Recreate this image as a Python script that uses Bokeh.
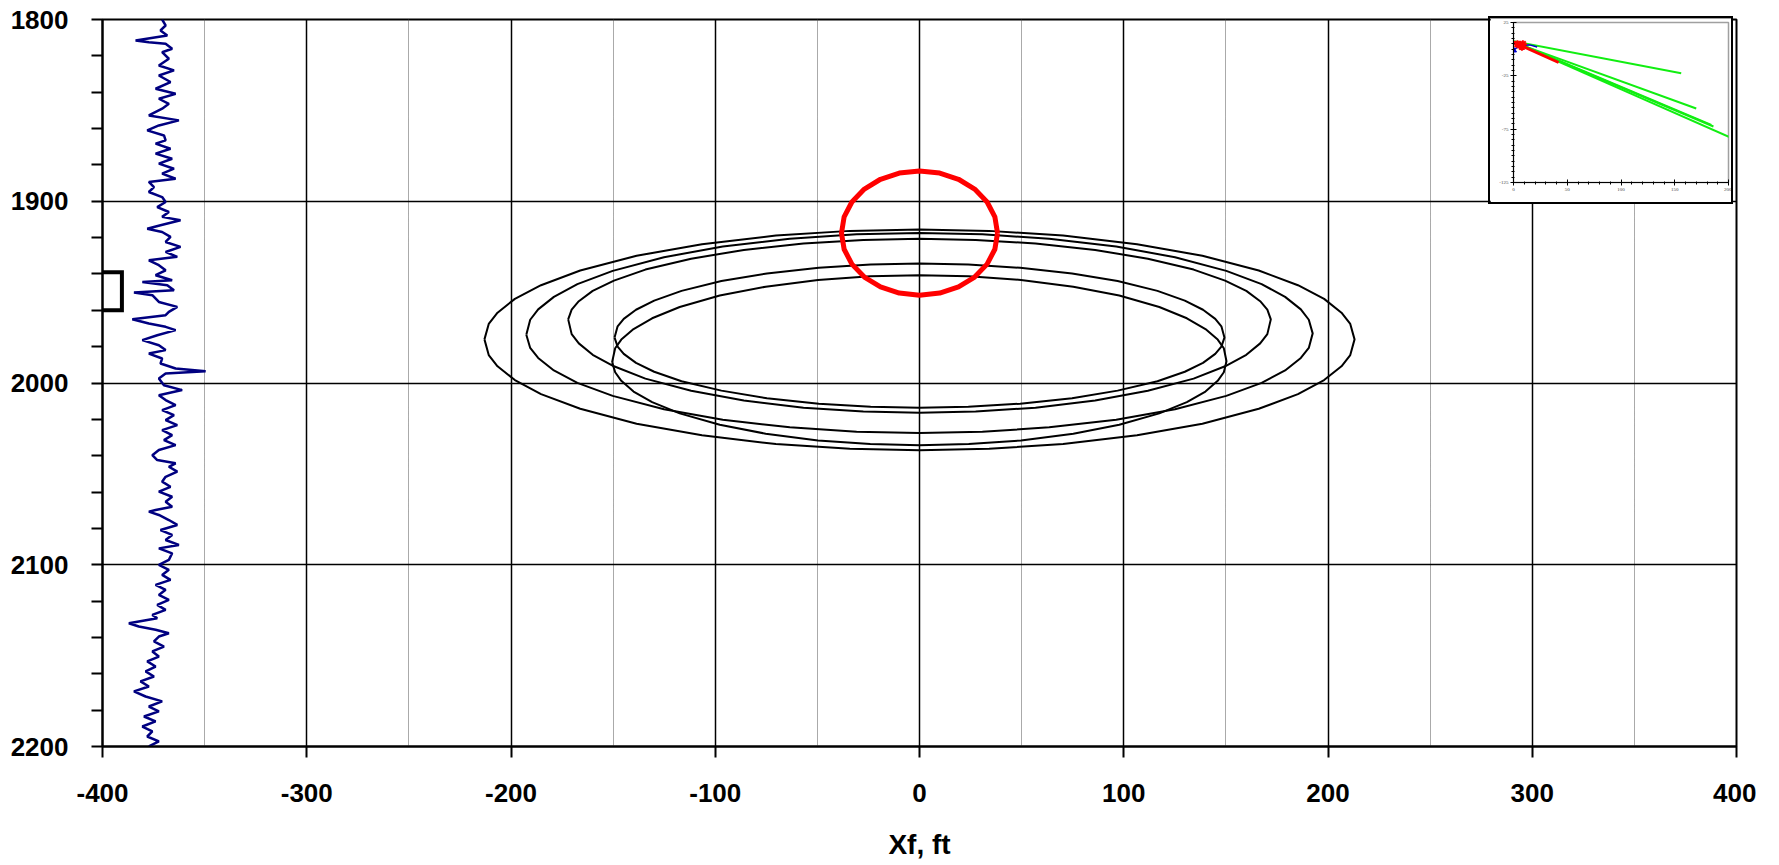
from bokeh.plotting import figure
from bokeh.models import FixedTicker, Range1d
from bokeh.embed import file_html
from bokeh.resources import INLINE

# ---------------- data ----------------
x_ticks = [-400, -300, -200, -100, 0, 100, 200, 300, 400]
x_minor = [-350, -250, -150, -50, 50, 150, 250, 350]
y_ticks = [1800, 1900, 2000, 2100, 2200]
y_minor = [1820, 1840, 1860, 1880, 1920, 1940, 1960, 1980, 2020, 2040, 2060, 2080,
           2120, 2140, 2160, 2180]

# gamma-ray style log (x = deflection, y = depth)
log_y = [1800, 1803.3, 1806.0, 1808.8, 1811.5, 1812.5, 1813.4, 1816.1, 1818.0, 1821.6,
         1825.3, 1828.0, 1830.8, 1834.4, 1838.1, 1840.9, 1843.6, 1846.4, 1849.1, 1852.8,
         1855.5, 1858.3, 1861.0, 1863.8, 1866.5, 1868.3, 1871.1, 1873.8, 1876.6, 1879.3,
         1882.1, 1884.8, 1887.6, 1889.4, 1892.2, 1894.9, 1897.7, 1900.4,
         1903.2, 1905.9, 1908.6, 1910.5, 1913.2, 1915.1, 1916.9, 1919.6, 1922.4, 1925.1,
         1927.9, 1930.6, 1932.5, 1935.2, 1938.0, 1940.7, 1943.5, 1944.4, 1946.2, 1949.0,
         1950.2, 1951.7, 1955.4, 1958.1, 1960.9, 1962.7, 1964.9, 1967.3, 1969.1, 1970.9,
         1973.7, 1976.4, 1979.2, 1981.9, 1983.8, 1986.5, 1989.3, 1992.0, 1993.5, 1994.8,
         1997.5,
         2001.2, 2003.9, 2006.7, 2009.4, 2012.2, 2014.9, 2017.7, 2020.4, 2023.2, 2025.9,
         2028.7, 2031.4, 2034.2, 2036.9, 2039.7, 2042.4, 2044.2, 2046.1, 2048.8, 2051.6,
         2054.3, 2057.1, 2059.8, 2062.6, 2065.3, 2068.1, 2069.9, 2070.8, 2072.6, 2075.4,
         2078.1, 2080.9, 2083.6, 2086.4, 2089.1, 2091.0, 2093.7,
         2097.3, 2100.1, 2102.8, 2105.6, 2108.3, 2111.1, 2113.8, 2116.6, 2119.3, 2122.1,
         2124.8, 2127.6, 2129.4, 2132.2, 2134.0, 2135.8, 2137.7, 2139.5, 2142.2, 2145.0,
         2147.7, 2150.5, 2153.2, 2156.0, 2158.7, 2161.5, 2164.2, 2167.0, 2169.7, 2172.5,
         2175.2, 2178.0, 2180.7, 2183.5, 2186.2, 2189.0, 2191.7, 2194.5, 2197.2, 2199.9]
log_x = [-370.8, -369.1, -371.6, -368.3, -383.8, -377.3, -369.1, -365.9, -370.8, -367.5,
         -372.4, -365.0, -372.4, -366.7, -374.0, -364.2, -372.4, -367.5, -370.8, -377.3,
         -362.6, -372.4, -378.1, -369.9, -369.1, -374.0, -366.7, -374.0, -365.9, -372.4,
         -365.0, -370.8, -364.2, -377.3, -374.8, -377.3, -370.8, -369.1,
         -373.2, -367.5, -370.8, -361.8, -371.6, -378.1, -370.8, -366.7, -369.1, -361.8,
         -369.1, -363.4, -377.3, -372.4, -369.1, -374.0, -365.9, -380.5, -368.3, -365.0,
         -384.6, -375.6, -372.4, -363.4, -367.5, -369.1, -385.4, -377.3, -369.1, -364.2,
         -373.2, -380.5, -372.4, -369.1, -377.3, -370.8, -371.6, -364.2, -349.5, -369.1,
         -372.4,
         -369.9, -361.0, -372.4, -369.1, -364.2, -370.8, -365.0, -369.1, -363.4, -370.8,
         -365.9, -369.9, -364.2, -372.4, -375.6, -373.2, -364.2, -367.5, -363.4, -369.1,
         -370.8, -366.7, -372.4, -365.9, -369.1, -365.9, -374.0, -377.3, -372.4, -367.5,
         -363.4, -371.6, -365.9, -369.1, -362.6, -372.4, -365.9,
         -367.5, -372.4, -367.5, -370.8, -366.7, -374.0, -369.1, -372.4, -367.5, -373.2,
         -369.1, -375.6, -373.2, -387.1, -382.2, -374.0, -367.5, -372.4, -374.8, -369.9,
         -375.6, -372.4, -378.1, -374.0, -378.9, -374.8, -381.4, -377.3, -384.6, -378.9,
         -370.8, -377.3, -372.4, -379.7, -374.0, -380.5, -375.6, -378.1, -372.4, -377.3]

# perforation bracket
bracket_x = [-400, -390.5, -390.5, -400]
bracket_y = [1939, 1939, 1960, 1960]

# fracture contours: x positions along each contour, upper and lower edge depths
c1_x = [-213, -210.9, -206.6, -198.1, -185.3, -166.1, -138.5, -106.5, -70.3, -34.1, 0,
        34.1, 70.3, 106.5, 138.5, 166.1, 185.3, 198.1, 206.6, 210.9, 213]
c1_top = [1976, 1967.5, 1961.3, 1953.7, 1946.2, 1938.1, 1930.0, 1923.6, 1918.9, 1916.3,
          1915.5, 1916.3, 1918.9, 1923.6, 1930.0, 1938.1, 1946.2, 1953.7, 1961.3, 1967.5, 1976]
c1_bot = [1976, 1984.6, 1990.8, 1998.4, 2006.1, 2014.2, 2022.4, 2028.8, 2033.6, 2036.2,
          2037, 2036.2, 2033.6, 2028.8, 2022.4, 2014.2, 2006.1, 1998.4, 1990.8, 1984.6, 1976]

c2_x = [-192.5, -190.6, -186.7, -179.0, -167.5, -150.2, -125.1, -96.3, -63.5, -30.8, 0,
        30.8, 63.5, 96.3, 125.1, 150.2, 167.5, 179.0, 186.7, 190.6, 192.5]
c2_top = [1973.5, 1965.2, 1959.5, 1952.6, 1945.6, 1938.3, 1930.8, 1924.9, 1920.6, 1918.2,
          1917.5, 1918.2, 1920.6, 1924.9, 1930.8, 1938.3, 1945.6, 1952.6, 1959.5, 1965.2, 1972.7]
c2_bot = [1973.5, 1980.7, 1986.2, 1993.1, 1999.9, 2007.1, 2014.4, 2020.2, 2024.4, 2026.8,
          2027.5, 2026.8, 2024.4, 2020.2, 2014.4, 2007.1, 1999.9, 1993.1, 1986.2, 1980.7, 1972.7]

c3_x = [-172, -170.3, -166.8, -160.0, -149.6, -134.2, -111.8, -86, -56.8, -27.5, 0,
        27.5, 56.8, 86, 111.8, 134.2, 149.6, 160.0, 166.8, 170.3, 172]
c3_top = [1965, 1959.6, 1955.0, 1949.3, 1943.7, 1937.6, 1931.6, 1926.8, 1923.2, 1921.3,
          1920.7, 1921.3, 1923.2, 1926.8, 1931.6, 1937.6, 1943.7, 1949.3, 1955.0, 1959.6, 1965]
c3_bot = [1965, 1973.1, 1978.2, 1984.5, 1990.8, 1997.6, 2004.3, 2009.6, 2013.6, 2015.7,
          2016.4, 2015.7, 2013.6, 2009.6, 2004.3, 1997.6, 1990.8, 1984.5, 1978.2, 1973.1, 1965]

c4_x = [-150.5, -149.0, -146.0, -140.0, -130.9, -117.4, -97.8, -75.3, -49.7, -24.1, 0,
        24.1, 49.7, 75.3, 97.8, 117.4, 130.9, 140.0, 146.0, 149.0, 150.3]
c4_top = [1988.5, 1980.9, 1976.1, 1970.3, 1964.4, 1958.2, 1951.9, 1947.0, 1943.3, 1941.3,
          1940.7, 1941.3, 1943.3, 1947.0, 1951.9, 1958.2, 1964.4, 1970.3, 1976.1, 1980.9, 1988]
c4_bot = [1988.5, 1994.1, 1998.8, 2004.7, 2010.5, 2016.7, 2023.0, 2027.9, 2031.6, 2033.6,
          2034.2, 2033.6, 2031.6, 2027.9, 2023.0, 2016.7, 2010.5, 2004.7, 1998.8, 1994.1, 1988]

c5_x = [-149.3, -147.8, -144.8, -138.8, -129.9, -116.5, -97.0, -74.7, -49.3, -23.9, 0,
        23.9, 49.3, 74.7, 97.0, 116.5, 129.9, 138.8, 144.8, 147.8, 149.3]
c5_top = [1975, 1968.8, 1964.7, 1959.7, 1954.7, 1949.3, 1943.9, 1939.7, 1936.6, 1934.8,
          1934.3, 1934.8, 1936.6, 1939.7, 1943.9, 1949.3, 1954.7, 1959.7, 1964.7, 1968.8, 1975]
c5_bot = [1975, 1980.0, 1984.0, 1988.9, 1993.8, 1999.0, 2004.2, 2008.4, 2011.4, 2013.1,
          2013.6, 2013.1, 2011.4, 2008.4, 2004.2, 1999.0, 1993.8, 1988.9, 1984.0, 1980.0, 1975]

# red outline around the wellbore
red_x = [38.2, 36.9, 33.1, 27.0, 19.1, 9.9, 0, -9.9, -19.1, -27.0, -33.1, -36.9, -38.2,
         -36.9, -33.1, -27.0, -19.1, -9.9, 0, 9.9, 19.1, 27.0, 33.1, 36.9, 38.2]
red_y = [1917.5, 1908.6, 1900.4, 1893.3, 1887.9, 1884.5, 1883.3, 1884.5, 1887.9, 1893.3,
         1900.4, 1908.6, 1917.5, 1926.4, 1934.6, 1941.7, 1947.1, 1950.5, 1951.7, 1950.5,
         1947.1, 1941.7, 1934.6, 1926.4, 1917.5]

# inset chart
inset_x_ticks = [0, 50, 100, 150, 200]
inset_y_ticks = [25, -25, -75, -125]
inset_green_x = [[0, 156], [0, 170], [3, 184], [3, 186], [3, 203]]
inset_green_y = [[7.5, -22.5], [6.5, -55.6], [6, -71], [5.5, -72.5], [5.5, -83.4]]
inset_red_x = [0, 42]
inset_red_y = [6.7, -12.5]
inset_star_x = [3.7, 6.2, 8.7, 7.8]
inset_star_y = [4.7, 3.8, 4.7, 2.2]
inset_blue_x = [0, 6, 15, 22]
inset_blue_y = [-1, 3.5, 4, 2]

# ---------------- main figure ----------------
FONT = "Liberation Sans"
p = figure(width=1756, height=862, x_range=Range1d(-400, 400), y_range=Range1d(2200, 1800),
           output_backend="svg", toolbar_location=None, sizing_mode="fixed",
           min_border_left=102, min_border_right=20, min_border_top=19, min_border_bottom=115)
p.background_fill_color = "white"
p.border_fill_color = "white"
p.outline_line_color = "black"
p.outline_line_width = 2

p.xaxis.ticker = FixedTicker(ticks=x_ticks, minor_ticks=x_minor)
p.yaxis.ticker = FixedTicker(ticks=y_ticks, minor_ticks=y_minor)
p.xaxis.major_label_overrides = {t: str(t) for t in x_ticks}
p.yaxis.major_label_overrides = {t: str(t) for t in y_ticks}

for ax in (p.xaxis[0], p.yaxis[0]):
    ax.axis_line_color = "black"
    ax.axis_line_width = 2
    ax.major_tick_line_color = "black"
    ax.major_tick_line_width = 2
    ax.major_tick_in = 0
    ax.major_tick_out = 11
    ax.minor_tick_line_color = "black"
    ax.minor_tick_line_width = 2
    ax.minor_tick_in = 0
    ax.major_label_text_font = FONT
    ax.major_label_text_font_style = "bold"
    ax.major_label_text_font_size = "26px"
    ax.major_label_text_color = "black"

p.xaxis.minor_tick_out = 0
p.yaxis.minor_tick_out = 11
p.xaxis.major_label_standoff = 26
p.yaxis.major_label_standoff = 23
p.xaxis.axis_label = "Xf, ft"
p.xaxis.axis_label_text_font = FONT
p.xaxis.axis_label_text_font_style = "bold"
p.xaxis.axis_label_text_font_size = "28px"
p.xaxis.axis_label_text_color = "black"
p.xaxis.axis_label_standoff = 24

p.xgrid.grid_line_color = "black"
p.xgrid.grid_line_width = 1.5
p.xgrid.minor_grid_line_color = "#555555"
p.xgrid.minor_grid_line_width = 1
p.xgrid.minor_grid_line_dash = "1 1"
p.ygrid.grid_line_color = "black"
p.ygrid.grid_line_width = 1.5
p.ygrid.minor_grid_line_color = None

# contours (closed: upper edge left->right, lower edge right->left)
for cx, ct, cb in ((c1_x, c1_top, c1_bot), (c2_x, c2_top, c2_bot), (c3_x, c3_top, c3_bot),
                   (c4_x, c4_top, c4_bot), (c5_x, c5_top, c5_bot)):
    xs = list(cx) + list(reversed(cx))
    ys = list(ct) + list(reversed(cb))
    p.line(xs, ys, line_color="black", line_width=2, line_join="round")

p.line(red_x, red_y, line_color="#ff0000", line_width=5, line_join="round")
p.line(log_x, log_y, line_color="#000080", line_width=2.5)
p.line(bracket_x, bracket_y, line_color="black", line_width=4, line_join="miter")

# ---------------- inset ----------------
inset = figure(width=241, height=184, x_range=Range1d(0, 200), y_range=Range1d(-125, 25),
               output_backend="svg", toolbar_location=None, sizing_mode="fixed", title=None,
               min_border_left=23, min_border_right=3, min_border_top=4, min_border_bottom=20,
               styles={"position": "absolute", "left": "1490px", "top": "18px",
                       "box-shadow": "0 0 0 2px black"})
inset.background_fill_color = "white"
inset.border_fill_color = "white"
inset.outline_line_color = "#a0a0a0"
inset.outline_line_width = 1.5
inset.grid.grid_line_color = None
inset.xaxis.ticker = FixedTicker(ticks=inset_x_ticks,
                                 minor_ticks=list(range(0, 201, 10)))
inset.yaxis.ticker = FixedTicker(ticks=inset_y_ticks,
                                 minor_ticks=list(range(-125, 26, 5)))
inset.xaxis.major_label_overrides = {t: str(t) for t in inset_x_ticks}
inset.yaxis.major_label_overrides = {t: str(t) for t in inset_y_ticks}
for ax in (inset.xaxis[0], inset.yaxis[0]):
    ax.axis_line_color = "black"
    ax.axis_line_width = 1
    ax.major_tick_in = 3
    ax.major_tick_out = 3
    ax.minor_tick_in = 1
    ax.minor_tick_out = 2
    ax.major_tick_line_color = "black"
    ax.minor_tick_line_color = "black"
    ax.major_label_text_font = "Liberation Serif"
    ax.major_label_text_font_size = "5px"
    ax.major_label_text_color = "#444444"
    ax.major_label_standoff = 2

inset.multi_line(inset_green_x, inset_green_y, line_color="#11ee11", line_width=2)
inset.line(inset_red_x, inset_red_y, line_color="#ff0000", line_width=3)
inset.line(inset_blue_x, inset_blue_y, line_color="#0000cc", line_width=1.5)
inset.scatter(inset_star_x, inset_star_y, marker="asterisk", size=8, line_color="#ff0000",
              line_width=2)
inset.scatter([inset_blue_x[0]], [inset_blue_y[0]], marker="triangle", size=6,
              fill_color="#0000cc", line_color="#0000cc")

open("out.html", "w").write(file_html([p, inset], INLINE))
